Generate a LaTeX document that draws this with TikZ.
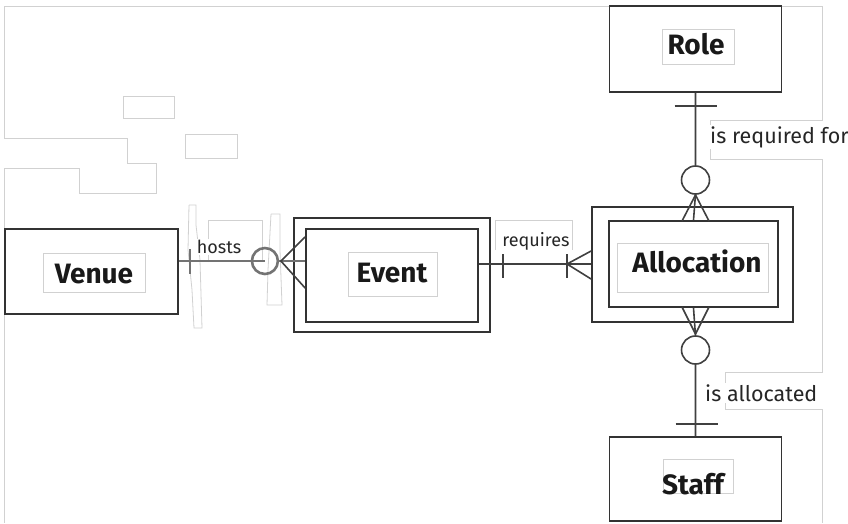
\documentclass[tikz,border=0pt]{standalone}
\usepackage{fontspec}
\setmainfont{Fira Sans}
\begin{document}
\begin{tikzpicture}[x=1pt,y=-1pt,
  ent/.style={draw=black!80,line width=1.8pt,minimum width=#1,inner sep=0pt},
  enttxt/.style={font=\bfseries\fontsize{28}{28}\selectfont,text=black!90,inner sep=0pt,anchor=base},
  rel/.style={draw=black!75,line width=1.6pt},
  relg/.style={draw=black!55,line width=2.6pt},
  lab/.style={fill=white,font=\fontsize{21.5}{21.5}\selectfont,text=black!85,inner sep=1pt},
  labs/.style={fill=white,font=\fontsize{18}{18}\selectfont,text=black!85,inner sep=1pt},
  faint/.style={draw=black!18,line width=0.8pt}]
\useasboundingbox (0,0) rectangle (848,523);
\fill[white] (0,0) rectangle (848,523);
% faint background artifacts
\draw[faint] (609,6) -- (4,6) -- (4,138) -- (127,138) -- (127,163) -- (156,163) -- (156,193) -- (79,193) -- (79,168) -- (4,168) -- (4,523);
\draw[faint] (782,6) -- (822,6) -- (822,120) -- (710,120) -- (710,159) -- (822,159) -- (822,372) -- (725,372) -- (725,409) -- (822,409) -- (822,523);
\draw[faint] (123,96) rectangle (174,118);
\draw[faint] (185,134) rectangle (237,158);
\draw[faint] (189,205) -- (196,205) -- (196,225) -- (200,260) -- (202,328) -- (194,328) -- (192,290) -- (188,250) -- (189,205);
\draw[faint] (271,214) -- (280,214) -- (280,250) -- (282,305) -- (267,305) -- (268,270) -- (271,214);
\draw[faint] (208,262) -- (208,220) -- (262,220) -- (262,262);
\draw[faint] (495,250) -- (495,220) -- (572,220) -- (572,250);
% entities
\node[ent=173pt,minimum height=85pt] (venue) at (91.5,271.5) {};
\draw[faint] (43,253) rectangle (145,292);
\node[enttxt] (venuet) at (94,283) {Venue};
\node[ent=196pt,minimum height=114pt] (eventO) at (392,275) {};
\node[ent=172pt,minimum height=93pt] (eventI) at (392,275.5) {};
\draw[faint] (348,252) rectangle (437,296);
\node[enttxt] (eventt) at (392,282) {Event};
\node[ent=201pt,minimum height=115pt] (allocO) at (692.5,264.5) {};
\node[ent=169pt,minimum height=86pt] (allocI) at (693.5,264) {};
\draw[faint] (617,243) rectangle (768,292);
\node[enttxt] (alloct) at (697,272) {Allocation};
\node[ent=172pt,minimum height=86pt] (role) at (695.5,49) {};
\draw[faint] (662,29) rectangle (734,64);
\node[enttxt] (rolet) at (696,54) {Role};
\node[ent=172pt,minimum height=84pt] (staff) at (695.5,479) {};
\draw[faint] (663,459) rectangle (733,493);
\node[enttxt] (stafft) at (693,494) {Staff};
% helper coordinates
\coordinate (veL) at ([yshift=10.5pt]venue.east);
\coordinate (vtick) at ([xshift=11pt]veL);
\coordinate (vcirc) at ([xshift=86pt]veL);
\coordinate (vcrow) at ([xshift=102pt]veL);
\coordinate (evR) at (eventI.east |- 0,264);
\coordinate (aL) at (allocO.west |- 0,264);
\coordinate (etick) at (503,264);
\coordinate (atick) at (567,264);
\coordinate (rtop) at (role.south);
\coordinate (rtick) at (695.5,106);
\coordinate (rcirc) at (695.5,180);
\coordinate (rapex) at (695.5,195);
\coordinate (sapex) at (695.5,334);
\coordinate (scirc) at (695.5,350);
\coordinate (stick) at (695.5,424);
% Venue - Event
\draw[relg] (veL) -- (vcirc |- veL) ([xshift=13pt]vcirc) -- (eventI.west |- veL);
\draw[relg] ([yshift=12pt]vtick) -- ([yshift=-13pt]vtick);
\draw[relg] (vcirc) circle[radius=13pt];
\draw[rel] (eventI.west |- 0,237) -- (vcrow) -- (eventI.west |- 0,288);
\node[labs] (hosts) at (219,247) {hosts};
% Event - Allocation
\draw[rel] (evR) -- (aL);
\draw[rel] ([yshift=10pt]etick) -- ([yshift=-14pt]etick);
\draw[rel] ([yshift=10pt]atick) -- ([yshift=-14pt]atick);
\draw[rel] (aL |- 0,251) -- (atick) -- (aL |- 0,279);
\node[labs] (requires) at (536,241) {requires};
% Role - Allocation
\draw[rel] (rtop) -- ([yshift=14pt]rcirc) ([yshift=-14pt]rcirc) -- (allocI.north);
\draw[rel] ([xshift=-21pt]rtick) -- ([xshift=21pt]rtick);
\draw[rel] (rcirc) circle[radius=14pt];
\draw[rel] (682,221) -- (rapex) -- (709,221);
\node[lab,anchor=west] (reqfor) at (709,137) {is required for};
% Allocation - Staff
\draw[rel] (allocI.south) -- ([yshift=14pt]scirc) ([yshift=-14pt]scirc) -- (staff.north);
\draw[rel] (682,307) -- (sapex) -- (709,307);
\draw[rel] (scirc) circle[radius=14pt];
\draw[rel] ([xshift=-20pt]stick) -- ([xshift=22pt]stick);
\node[lab,anchor=west] (isalloc) at (704,393) {is allocated};
\end{tikzpicture}
\end{document}
